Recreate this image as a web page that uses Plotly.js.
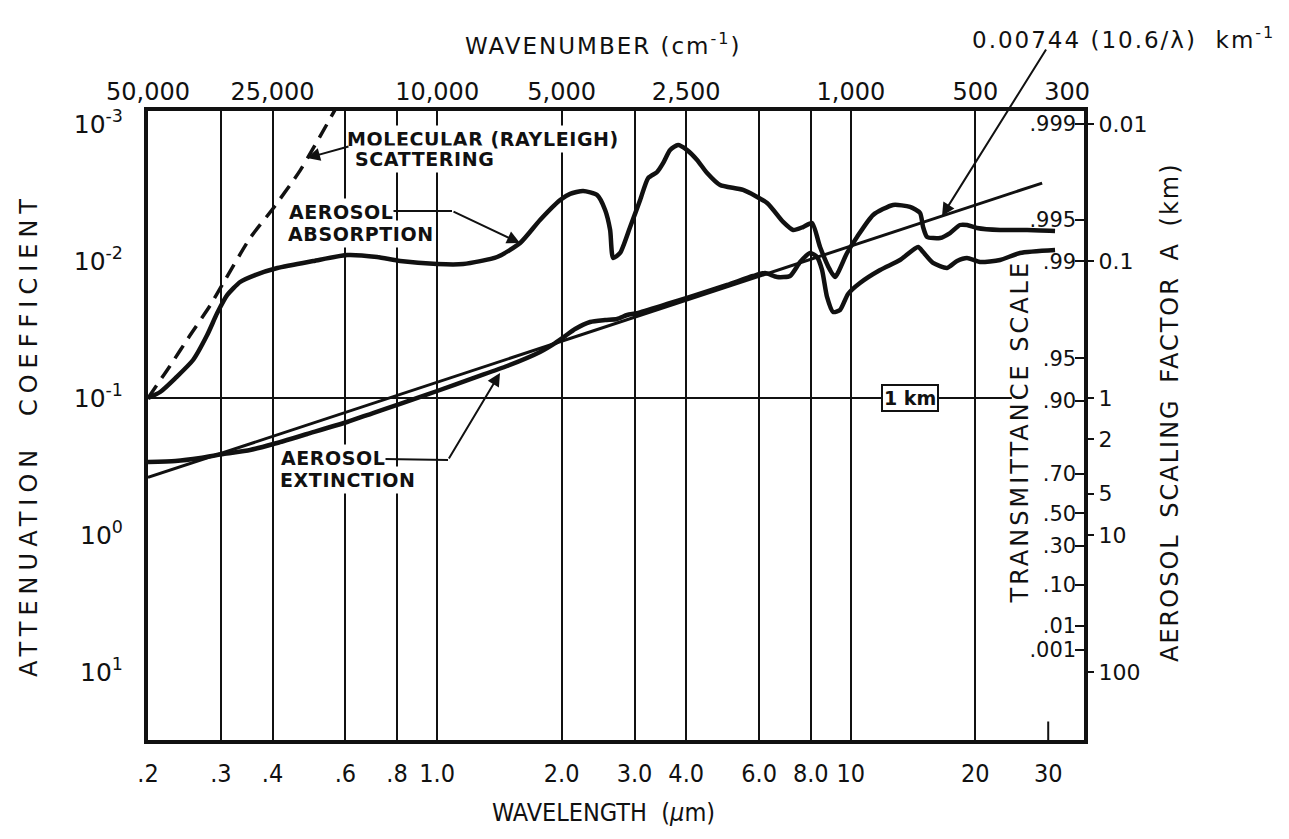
<!DOCTYPE html>
<html>
<head>
<meta charset="utf-8">
<script src="https://cdn.plot.ly/plotly-3.0.1.min.js"></script>
<style>
html,body{margin:0;padding:0;background:#fff;}
#chart{width:1289px;height:839px;}
.annotation[data-index="0"] text{letter-spacing:6px;word-spacing:14px;}
.annotation[data-index="2"] text{letter-spacing:2px;}
.annotation[data-index="3"] text{letter-spacing:2px;}
.annotation[data-index="4"] text{letter-spacing:3px;}
.annotation[data-index="5"] text{letter-spacing:2px;word-spacing:6px;}
.annotation[data-index="6"] text,.annotation[data-index="7"] text,.annotation[data-index="8"] text,
.annotation[data-index="9"] text,.annotation[data-index="10"] text,.annotation[data-index="11"] text{letter-spacing:0.6px;}
</style>
</head>
<body>
<div id="chart"></div>
<script>
// ---- data (wavelength in µm, attenuation coefficient in km^-1) ----
const rayleighWavelength = [0.2, 0.226, 0.253, 0.283, 0.304, 0.353, 0.402, 0.467, 0.561, 0.583];
const rayleighCoeff      = [0.1, 0.0584, 0.0347, 0.021, 0.0145, 0.0068, 0.0041, 0.00217, 0.00083, 0.00067];

const absorptionWavelength = [0.2, 0.214, 0.233, 0.257, 0.278, 0.294, 0.311, 0.334, 0.363, 0.411, 0.502, 0.606, 0.716, 0.814, 1.0, 1.156, 1.396, 1.587, 1.773, 1.983, 2.096, 2.253, 2.436, 2.547, 2.619, 2.663, 2.768, 2.927, 3.095, 3.236, 3.402, 3.517, 3.657, 3.823, 4.02, 4.25, 4.493, 4.83, 5.49, 6.274, 6.859, 7.252, 7.666, 8.057, 8.425, 8.905, 9.159, 9.79, 10.35, 11.32, 12.65, 13.9, 14.7, 14.95, 15.29, 16.43, 17.37, 18.36, 19.09, 20.18, 22.94, 26.67, 31.16];
const absorptionCoeff      = [0.1, 0.0904, 0.0715, 0.0528, 0.0347, 0.024, 0.0177, 0.01423, 0.01266, 0.01125, 0.01, 0.00904, 0.00935, 0.01, 0.01052, 0.01052, 0.00935, 0.00739, 0.00502, 0.00359, 0.00324, 0.00308, 0.0033, 0.00424, 0.00594, 0.0095, 0.00874, 0.00565, 0.00359, 0.00248, 0.00224, 0.00193, 0.00155, 0.001423, 0.00155, 0.00183, 0.00228, 0.00279, 0.00303, 0.00377, 0.00519, 0.00594, 0.00565, 0.00528, 0.0079, 0.01163, 0.01309, 0.00874, 0.00668, 0.00461, 0.0039, 0.00403, 0.00446, 0.00565, 0.00668, 0.00679, 0.00625, 0.00546, 0.00546, 0.00574, 0.00594, 0.00594, 0.00604];

const extinctionWavelength = [0.2, 0.233, 0.2675, 0.304, 0.353, 0.402, 0.485, 0.606, 0.7, 0.814, 1.0, 1.222, 1.476, 1.773, 1.928, 2.039, 2.155, 2.343, 2.547, 2.723, 2.879, 3.043, 3.597, 4.087, 5.022, 5.802, 6.204, 6.633, 7.131, 7.54, 7.969, 8.285, 8.518, 8.758, 9.057, 9.417, 9.845, 10.52, 11.77, 13.15, 14.54, 14.95, 15.8, 17.08, 18.06, 19.09, 20.52, 22.94, 25.63, 31.16];
const extinctionCoeff      = [0.2932, 0.2884, 0.2742, 0.2563, 0.2396, 0.2167, 0.1832, 0.1497, 0.1287, 0.1106, 0.0889, 0.0715, 0.0584, 0.0461, 0.0397, 0.0353, 0.03135, 0.02788, 0.02696, 0.0265, 0.02479, 0.024, 0.0206, 0.0183, 0.01497, 0.01287, 0.01224, 0.01309, 0.01287, 0.01017, 0.00874, 0.00935, 0.01163, 0.0183, 0.02357, 0.02279, 0.01741, 0.01447, 0.01163, 0.00983, 0.0079, 0.0086, 0.01034, 0.01125, 0.01, 0.0095, 0.01017, 0.00983, 0.00874, 0.00831];

// straight line 0.00744 (10.6/λ) km^-1, read at its two ends
const lawWavelength = [0.2, 29];
const lawCoeff      = [0.38, 0.0027];

// 1 km reference line (coefficient 0.1 km^-1)
const oneKmWavelength = [0.2, 24.5];
const oneKmCoeff      = [0.1, 0.1];

// ---- tick labels ----
const wavelengthTicks  = [0.2, 0.3, 0.4, 0.6, 0.8, 1, 2, 3, 4, 6, 8, 10, 20];
const wavelengthLabels = ['.2', '.3', '.4', '.6', '.8', '1.0', '2.0', '3.0', '4.0', '6.0', '8.0', '10', '20'];
const endTickWavelength = 30;          // short tick only, no grid line
const endTickLabel      = '30';
const gridWavelengths  = [0.3, 0.4, 0.6, 0.8, 1, 2, 3, 4, 6, 8, 10, 20];
const wavenumbers      = [50000, 25000, 10000, 5000, 2500, 1000, 500, 300];
const wavenumberLabels = ['50,000', '25,000', '10,000', '5,000', '2,500', '1,000', '500', '300'];
const coeffTicks  = [1e-3, 1e-2, 1e-1, 1, 10];
const coeffLabels = ['10<sup>-3</sup>', '10<sup>-2</sup>', '10<sup>-1</sup>', '10<sup>0</sup>', '10<sup>1</sup>'];
const transmittanceValues = [0.999, 0.995, 0.99, 0.95, 0.90, 0.70, 0.50, 0.30, 0.10, 0.01, 0.001];
const transmittanceLabels = ['.999', '.995', '.99', '.95', '.90', '.70', '.50', '.30', '.10', '.01', '.001'];
const scalingValues = [0.01, 0.1, 1, 2, 5, 10, 100];
const scalingLabels = ['0.01', '0.1', '1', '2', '5', '10', '100'];

// scale relations
const wavenumberPos    = wavenumbers.map(n => 1e4 / n);            // cm^-1 -> µm
const transmittancePos = transmittanceValues.map(t => -Math.log(t)); // 1 km path
const scalingPos       = scalingValues.map(a => a / 10);             // A = 1 at 0.1 km^-1

const INK = '#111';
const fontMain = 'DejaVu Sans, Liberation Sans, sans-serif';
const fontCond = 'DejaVu Sans Condensed, Liberation Sans Narrow, DejaVu Sans, sans-serif';
const xr = [Math.log10(0.2), 1.5636];
const yr = [1.4964, -3.0949];

// pixel -> paper helpers for annotation placement
const L = 148, T = 111, W = 936, H = 629;
const px = x => (x - L) / W;
const py = y => (T + H - y) / H;

const traces = [
  {x: oneKmWavelength, y: oneKmCoeff, xaxis: 'x2', yaxis: 'y', mode: 'lines', line: {color: INK, width: 2}, name: '1 km'},
  {x: lawWavelength, y: lawCoeff, mode: 'lines', line: {color: INK, width: 3}, name: '0.00744 (10.6/λ)'},
  {x: rayleighWavelength, y: rayleighCoeff, mode: 'lines', line: {color: INK, width: 3.5, dash: '15px,9px', shape: 'spline', smoothing: 0.6}, name: 'Molecular (Rayleigh) scattering'},
  {x: extinctionWavelength, y: extinctionCoeff, mode: 'lines', line: {color: INK, width: 4.5, shape: 'spline', smoothing: 0.6}, name: 'Aerosol extinction'},
  {x: absorptionWavelength, y: absorptionCoeff, mode: 'lines', line: {color: INK, width: 4.5, shape: 'spline', smoothing: 0.6}, name: 'Aerosol absorption'},
  {x: [], y: [], xaxis: 'x', yaxis: 'y2', mode: 'lines', showlegend: false},
  {x: [], y: [], xaxis: 'x3', yaxis: 'y3', mode: 'lines', showlegend: false}
];

const arrowBase = {text: '', showarrow: true, arrowhead: 2, arrowsize: 1.3, arrowwidth: 2, arrowcolor: INK, standoff: 0, xref: 'paper', yref: 'paper', axref: 'pixel', ayref: 'pixel'};
const labelBase = {showarrow: false, xref: 'paper', yref: 'paper', xanchor: 'left', yanchor: 'middle', bgcolor: '#fff', borderpad: 2, font: {family: fontMain, size: 19, color: INK}};

const annotations = [
  {text: 'ATTENUATION COEFFICIENT', x: px(29), y: py(435), textangle: -90, showarrow: false, xref: 'paper', yref: 'paper', xanchor: 'center', yanchor: 'middle', font: {family: fontMain, size: 24, color: INK}},
  {text: 'WAVELENGTH  (<i>μ</i>m)', x: px(603), y: py(812), showarrow: false, xref: 'paper', yref: 'paper', xanchor: 'center', yanchor: 'middle', font: {family: fontCond, size: 25, color: INK}},
  {text: 'WAVENUMBER (cm<sup>-1</sup>)', x: px(603), y: py(44), showarrow: false, xref: 'paper', yref: 'paper', xanchor: 'center', yanchor: 'middle', font: {family: fontMain, size: 23, color: INK}},
  {text: '0.00744 (10.6/λ)  km<sup>-1</sup>', x: px(1123), y: py(38), showarrow: false, xref: 'paper', yref: 'paper', xanchor: 'center', yanchor: 'middle', font: {family: fontMain, size: 23, color: INK}},
  {text: 'TRANSMITTANCE SCALE', x: px(1020), y: py(432), textangle: -90, showarrow: false, xref: 'paper', yref: 'paper', xanchor: 'center', yanchor: 'middle', font: {family: fontMain, size: 24, color: INK}},
  {text: 'AEROSOL SCALING FACTOR A (km)', x: px(1170), y: py(412), textangle: -90, showarrow: false, xref: 'paper', yref: 'paper', xanchor: 'center', yanchor: 'middle', font: {family: fontMain, size: 24, color: INK}},
  Object.assign({}, labelBase, {text: '<b>MOLECULAR (RAYLEIGH)</b>', x: px(350), y: py(139)}),
  Object.assign({}, labelBase, {text: '<b>SCATTERING</b>', x: px(355), y: py(159)}),
  Object.assign({}, labelBase, {text: '<b>AEROSOL</b>', x: px(288), y: py(212)}),
  Object.assign({}, labelBase, {text: '<b>ABSORPTION</b>', x: px(288), y: py(234)}),
  Object.assign({}, labelBase, {text: '<b>AEROSOL</b>', x: px(280), y: py(458)}),
  Object.assign({}, labelBase, {text: '<b>EXTINCTION</b>', x: px(280), y: py(480)}),
  {text: '<b>1 km</b>', x: px(910), y: py(398), showarrow: false, xref: 'paper', yref: 'paper', xanchor: 'center', yanchor: 'middle', bgcolor: '#fff', bordercolor: INK, borderwidth: 2, borderpad: 1, font: {family: fontMain, size: 19, color: INK}},
  Object.assign({}, arrowBase, {x: px(307), y: py(158), ax: 43, ay: -12}),
  Object.assign({}, arrowBase, {x: px(520), y: py(243), ax: -68, ay: -32}),
  Object.assign({}, arrowBase, {x: px(500), y: py(373), ax: -52, ay: 87}),
  Object.assign({}, arrowBase, {x: px(942), y: py(216), ax: 105, ay: -168}),
  // end-of-axis label and short tick at 30 µm (annotation x on a log axis is log10 of the value)
  {text: endTickLabel, x: Math.log10(endTickWavelength), xref: 'x', y: py(773), yref: 'paper', showarrow: false, xanchor: 'center', yanchor: 'middle', font: {family: fontCond, size: 25, color: INK}},
  {text: '', x: Math.log10(endTickWavelength), xref: 'x', y: 0, yref: 'paper', showarrow: true, arrowhead: 0, arrowwidth: 2, arrowcolor: INK, ax: 0, ay: -20, axref: 'pixel', ayref: 'pixel', standoff: 0}
];

const shapes = [
  {type: 'line', xref: 'paper', yref: 'paper', x0: px(390), y0: py(211), x1: px(452), y1: py(211), line: {color: INK, width: 2}},
  {type: 'line', xref: 'paper', yref: 'paper', x0: px(384), y0: py(459), x1: px(448), y1: py(460), line: {color: INK, width: 2}}
];

const layout = {
  width: 1289, height: 839,
  margin: {l: L, r: 1289 - L - W, t: T, b: 839 - T - H, pad: 0},
  paper_bgcolor: '#fff', plot_bgcolor: '#fff',
  showlegend: false,
  font: {family: fontMain, color: INK, size: 20},
  xaxis: {type: 'log', range: xr, tickmode: 'array', tickvals: wavelengthTicks, ticktext: wavelengthLabels,
          showgrid: false, zeroline: false, showline: true, linecolor: INK, linewidth: 4, mirror: true,
          ticks: '', tickfont: {family: fontCond, size: 25, color: INK}, ticklabelstandoff: 8},
  xaxis2: {type: 'log', range: xr, overlaying: 'x', anchor: 'y', side: 'bottom', tickmode: 'array', tickvals: gridWavelengths,
           showticklabels: false, ticks: '', showgrid: true, gridcolor: INK, gridwidth: 2, zeroline: false, showline: false},
  xaxis3: {type: 'log', range: xr, overlaying: 'x', anchor: 'y', side: 'top', tickmode: 'array', tickvals: wavenumberPos, ticktext: wavenumberLabels,
           ticks: '', showgrid: false, zeroline: false, showline: false, tickfont: {family: fontMain, size: 24, color: INK}, ticklabelstandoff: 5},
  yaxis: {type: 'log', range: yr, tickmode: 'array', tickvals: coeffTicks, ticktext: coeffLabels, ticks: '',
          showgrid: false, zeroline: false, showline: true, linecolor: INK, linewidth: 4, mirror: true,
          tickfont: {family: fontMain, size: 25, color: INK}, ticklabelstandoff: 16},
  yaxis2: {type: 'log', range: yr, overlaying: 'y', anchor: 'x', side: 'right', tickmode: 'array', tickvals: transmittancePos, ticktext: transmittanceLabels,
           ticks: 'inside', ticklen: 9, tickwidth: 2, tickcolor: INK, ticklabelposition: 'inside', showgrid: false, zeroline: false, showline: false,
           tickfont: {family: fontMain, size: 21, color: INK}},
  yaxis3: {type: 'log', range: yr, overlaying: 'y', anchor: 'x', side: 'right', tickmode: 'array', tickvals: scalingPos, ticktext: scalingLabels,
           ticks: 'outside', ticklen: 9, tickwidth: 2, tickcolor: INK, showgrid: false, zeroline: false, showline: false,
           tickfont: {family: fontMain, size: 22, color: INK}},
  annotations: annotations,
  shapes: shapes
};

Plotly.newPlot('chart', traces, layout, {staticPlot: true, displayModeBar: false});
</script>
</body>
</html>
